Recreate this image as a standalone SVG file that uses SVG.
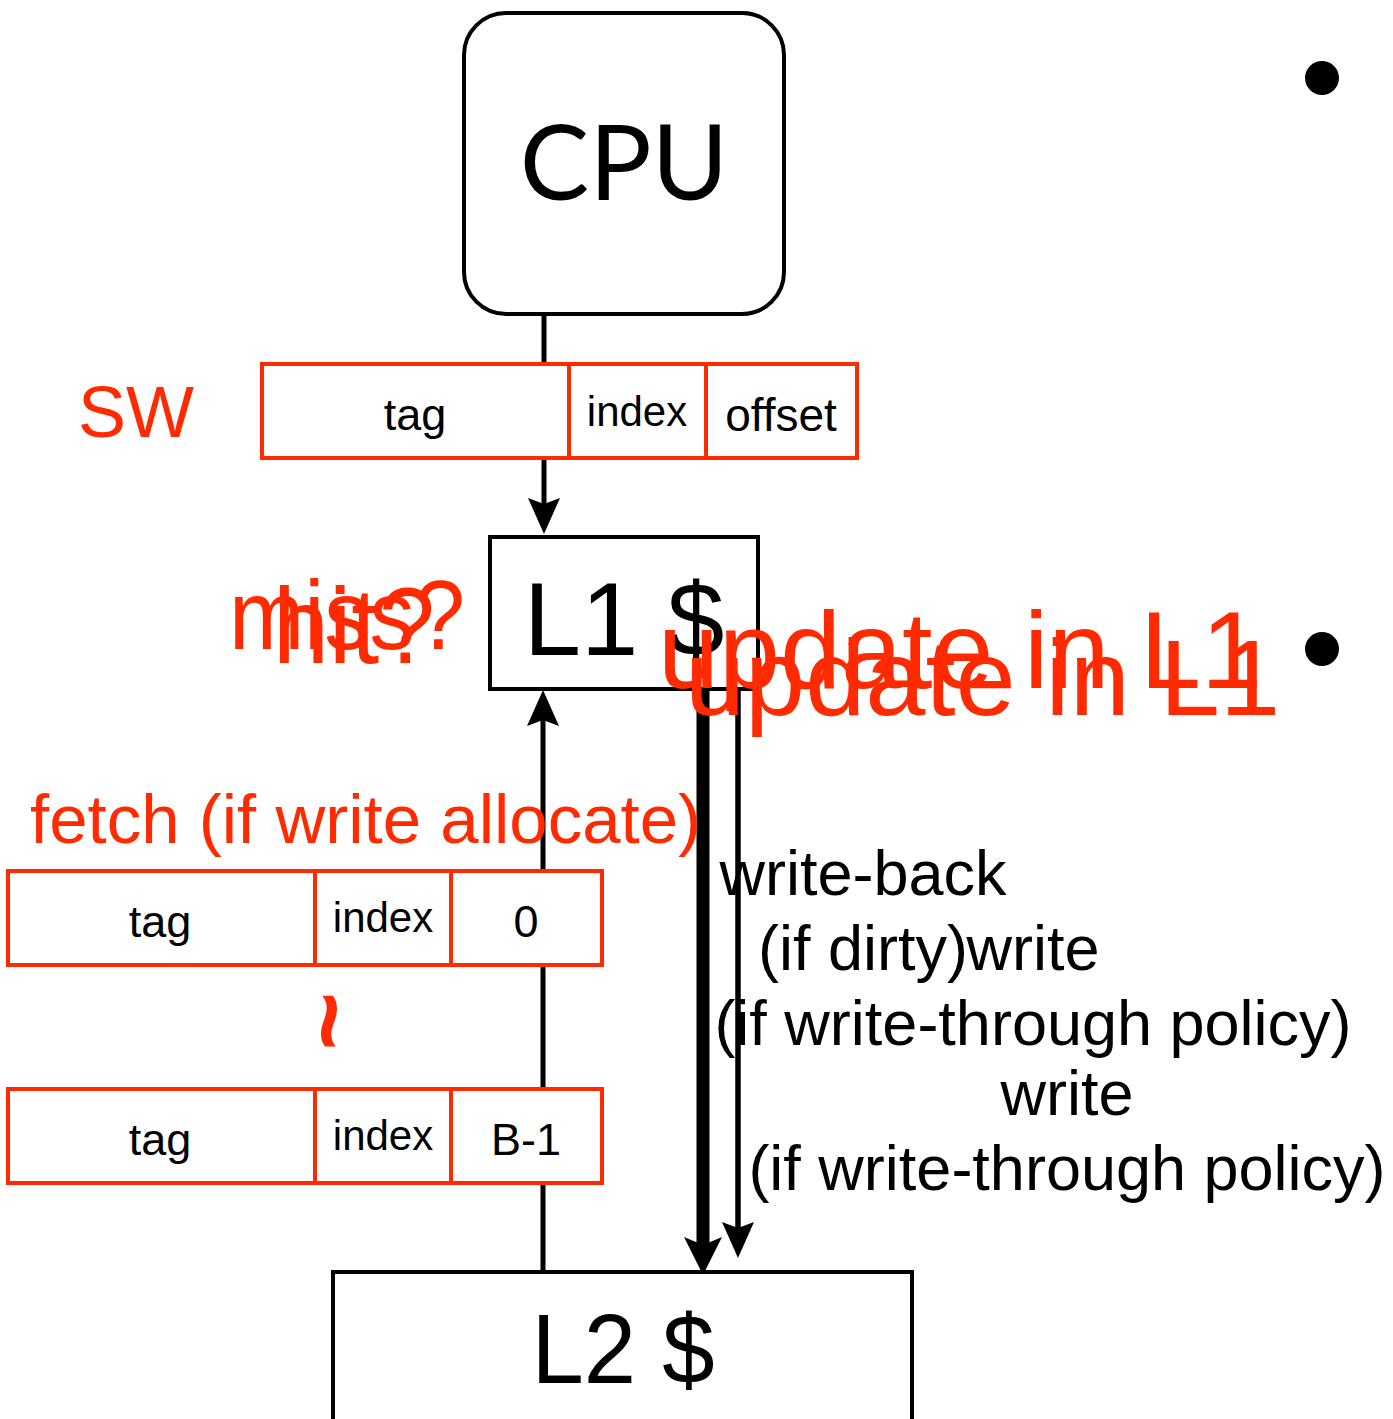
<svg xmlns="http://www.w3.org/2000/svg" width="1393" height="1419" viewBox="0 0 1393 1419">
<style>
.box{fill:#fff;stroke:#000;stroke-width:4}
.rbox{fill:#fff;stroke:#ff2a00;stroke-width:4}
.rdiv{stroke:#ff2a00;stroke-width:4}
.t{font-family:"Liberation Sans",Arial,sans-serif;fill:#000}
.r{font-family:"Liberation Sans",Arial,sans-serif;fill:#ff2a00}
.c{text-anchor:middle}
.ln{stroke:#000;fill:none}
</style>
<defs>
<marker id="ah" markerUnits="userSpaceOnUse" markerWidth="40" markerHeight="40" viewBox="-2 -20 40 40" refX="6" refY="0" orient="auto">
<path d="M36,0 L0,-16 L6,0 L0,16 Z" fill="#000"/>
</marker>
<marker id="ahb" markerUnits="userSpaceOnUse" markerWidth="44" markerHeight="44" viewBox="-2 -22 44 44" refX="8" refY="0" orient="auto">
<path d="M38,0 L0,-19 L8,0 L0,19 Z" fill="#000"/>
</marker>
</defs>

<g id="connectors">
<line class="ln" x1="544" y1="314" x2="544" y2="504" stroke-width="5" marker-end="url(#ah)"/>
<line class="ln" x1="543" y1="1272" x2="543" y2="720" stroke-width="5" marker-end="url(#ah)"/>
<line class="ln" x1="703" y1="691" x2="703" y2="1245" stroke-width="13" marker-end="url(#ahb)"/>
<line class="ln" x1="738" y1="684" x2="738" y2="1228" stroke-width="5.5" marker-end="url(#ah)"/>
</g>

<g id="cpu">
<rect class="box" x="464" y="13" width="320" height="301" rx="42"/>
<text x="624" y="200" class="c" font-family="Lato,'Open Sans',sans-serif" font-size="104" fill="#000">CPU</text>
</g>

<g id="sw-label"><text class="r" x="78" y="437" font-size="72">SW</text></g>

<g id="sw-address">
<rect class="rbox" x="262" y="364" width="595" height="94"/>
<line class="rdiv" x1="569" y1="364" x2="569" y2="458"/>
<line class="rdiv" x1="706" y1="364" x2="706" y2="458"/>
<text class="t c" x="415" y="430" font-size="45">tag</text>
<text class="t c" x="637" y="426" font-size="42">index</text>
<text class="t c" x="781" y="431" font-size="46">offset</text>
</g>

<g id="l1">
<rect class="box" x="490" y="537" width="268" height="152"/>
<text class="t c" x="624" y="655" font-size="103">L1 $</text>
</g>

<g id="miss-hit">
<text class="r" x="229" y="649" font-size="98" textLength="236" lengthAdjust="spacingAndGlyphs">miss?</text>
<text class="r" x="273" y="663" font-size="108" textLength="162" lengthAdjust="spacingAndGlyphs">hit?</text>
</g>

<g id="update">
<text class="r" x="658" y="688" font-size="109" textLength="604" lengthAdjust="spacingAndGlyphs">update in L1</text>
<text class="r" x="685" y="715" font-size="108" textLength="595" lengthAdjust="spacingAndGlyphs">update in L1</text>
</g>

<g id="bullets">
<circle cx="1322" cy="78" r="17" fill="#000"/>
<circle cx="1322" cy="649" r="17" fill="#000"/>
</g>

<g id="fetch-label"><text class="r" x="30" y="843" font-size="69">fetch (if write allocate)</text></g>

<g id="block-0">
<rect class="rbox" x="8" y="871" width="594" height="94"/>
<line class="rdiv" x1="315" y1="871" x2="315" y2="965"/>
<line class="rdiv" x1="451" y1="871" x2="451" y2="965"/>
<text class="t c" x="160" y="937" font-size="45">tag</text>
<text class="t c" x="383" y="932" font-size="42">index</text>
<text class="t c" x="526" y="937" font-size="45">0</text>
</g>

<g id="ellipsis"><text class="r c" transform="translate(330,1021) rotate(90)" x="0" y="0" dy="0.34em" font-size="100" font-weight="bold">~</text></g>

<g id="block-b1">
<rect class="rbox" x="8" y="1089" width="594" height="94"/>
<line class="rdiv" x1="315" y1="1089" x2="315" y2="1183"/>
<line class="rdiv" x1="451" y1="1089" x2="451" y2="1183"/>
<text class="t c" x="160" y="1155" font-size="45">tag</text>
<text class="t c" x="383" y="1150" font-size="42">index</text>
<text class="t c" x="526" y="1155" font-size="45">B-1</text>
</g>

<g id="writeback-label">
<text class="t c" x="863" y="895" font-size="63">write-back</text>
<text class="t c" x="863" y="970" font-size="63">(if dirty)</text>
</g>
<g id="write-label-1">
<text class="t c" x="1033" y="970" font-size="63">write</text>
<text class="t c" x="1033" y="1045" font-size="63">(if write-through policy)</text>
</g>
<g id="write-label-2">
<text class="t c" x="1067" y="1115" font-size="63">write</text>
<text class="t c" x="1067" y="1190" font-size="63">(if write-through policy)</text>
</g>

<g id="l2">
<rect class="box" x="333" y="1272" width="579" height="160"/>
<text class="t c" x="623" y="1383" font-size="99" textLength="183" lengthAdjust="spacingAndGlyphs">L2 $</text>
</g>
</svg>
